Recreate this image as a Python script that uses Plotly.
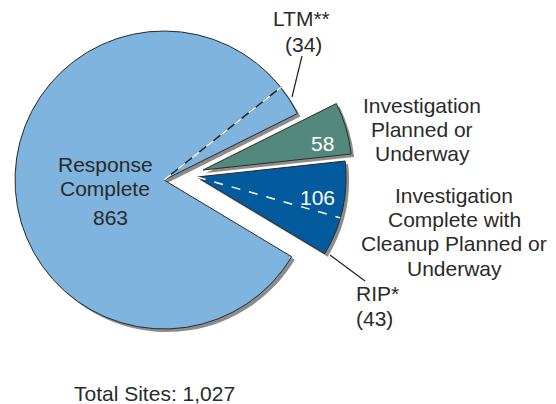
import math
import plotly.graph_objects as go

# data
categories = ["Response Complete", "Investigation Planned or Underway",
              "Investigation Complete with Cleanup Planned or Underway"]
site_counts = [863, 58, 106]
subset_labels = ["LTM**", "RIP*"]
subset_counts = [34, 43]          # LTM is part of Response Complete, RIP part of the 106 slice
slice_colors = ["#7fb4df", "#53897c", "#035a9c"]

W, H = 556, 404
OFF = 8            # page body margin, positions below are in window px
R = 149            # pie radius in px
ROT = 121          # where the first slice starts (deg clockwise from 12 o'clock)
# apex of each slice in px (slices 2 and 3 are pulled out)
apex = [(164, 180), (203, 170), (197, 177)]
SHADOW = (3, 3)
FONT = "Liberation Sans, Arial, sans-serif"
TXT = "#2a2a2a"
total = sum(site_counts)


def px2paper(x, y):
    return (x - OFF) / W, 1 - (y - OFF) / H


def domain(cx, cy):
    x0, y1 = px2paper(cx - R, cy - R)
    x1, y0 = px2paper(cx + R, cy + R)
    return dict(x=[x0, x1], y=[y0, y1])


def one_slice(i, cx, cy, color, line):
    cols = ["rgba(0,0,0,0)"] * len(site_counts)
    lcols = ["rgba(0,0,0,0)"] * len(site_counts)
    lw = [0] * len(site_counts)
    cols[i] = color
    if line:
        lcols[i] = "#2b2b2b"
        lw[i] = 1
    return go.Pie(labels=categories, values=site_counts, sort=False,
                  direction="clockwise", rotation=ROT, domain=domain(cx, cy),
                  marker=dict(colors=cols, line=dict(color=lcols, width=lw)),
                  textinfo="none", hoverinfo="skip", showlegend=False)


fig = go.Figure()
for i, (cx, cy) in enumerate(apex):
    fig.add_trace(one_slice(i, cx + SHADOW[0], cy + SHADOW[1], "#8c8c8c", False))
for i, (cx, cy) in enumerate(apex):
    fig.add_trace(one_slice(i, cx, cy, slice_colors[i], True))


def ray(cx, cy, count_before):
    a = math.radians(ROT + count_before / total * 360)
    return cx + R * math.sin(a), cy - R * math.cos(a)


shapes = []
# LTM dashed line inside Response Complete
x1, y1 = ray(*apex[0], site_counts[0] - subset_counts[0])
p0, p1 = px2paper(*apex[0]), px2paper(x1, y1)
shapes.append(dict(type="line", xref="paper", yref="paper", x0=p0[0], y0=p0[1], x1=p1[0], y1=p1[1],
                   line=dict(color="#222", width=1.5)))
shapes.append(dict(type="line", xref="paper", yref="paper", x0=p0[0], y0=p0[1], x1=p1[0], y1=p1[1],
                   line=dict(color="white", width=1.5, dash="dash")))
# RIP dashed line inside the 106 slice
x1, y1 = ray(*apex[2], total - subset_counts[1])
p0, p1 = px2paper(*apex[2]), px2paper(x1, y1)
shapes.append(dict(type="line", xref="paper", yref="paper", x0=p0[0], y0=p0[1], x1=p1[0], y1=p1[1],
                   line=dict(color="white", width=1.5, dash="dash")))

# leader lines
for (a, b) in [((302, 56), (292, 97)), ((330, 255), (365, 281))]:
    q0, q1 = px2paper(*a), px2paper(*b)
    shapes.append(dict(type="line", xref="paper", yref="paper", x0=q0[0], y0=q0[1],
                       x1=q1[0], y1=q1[1], line=dict(color="#222", width=1.2)))

annotations = []


def label(lines, x, y_top, color=TXT, size=21, step=25, align="center"):
    for k, t in enumerate(lines):
        px, py = px2paper(x, y_top + k * step)
        annotations.append(dict(text=t, x=px, y=py, xref="paper", yref="paper",
                                xanchor=align, yanchor="middle", showarrow=False,
                                font=dict(family=FONT, size=size, color=color)))


label(["Response", "Complete"], 105, 164)
label([f"{site_counts[0]:,}"], 110, 217)
label([str(site_counts[1])], 322, 143, color="white")
label([str(site_counts[2])], 317, 197, color="white")
label(["Investigation", "Planned or", "Underway"], 422, 105, step=24)
label(["Investigation", "Complete with", "Cleanup Planned or", "Underway"], 454, 195, step=24.5)
label([subset_labels[0]], 301, 18)
label([f"({subset_counts[0]})"], 303, 45)
label([subset_labels[1], f"({subset_counts[1]})"], 354, 293, align="left")
label([f"Total Sites: {total:,}"], 154, 393)

fig.update_layout(width=W, height=H, margin=dict(l=0, r=0, t=0, b=0),
                  paper_bgcolor="white", plot_bgcolor="white",
                  shapes=shapes, annotations=annotations, showlegend=False)
fig.write_html("out.html")
